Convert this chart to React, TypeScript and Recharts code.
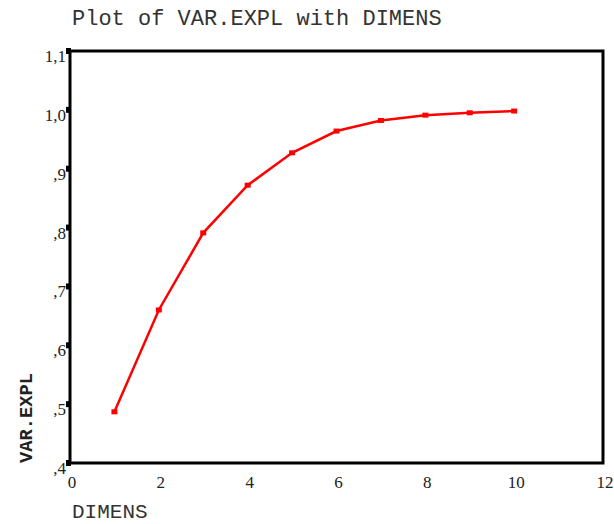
import { LineChart, Line, XAxis, YAxis, ReferenceArea } from 'recharts';

const dimens = [1, 2, 3, 4, 5, 6, 7, 8, 9, 10];
const varExpl = [0.487, 0.66, 0.791, 0.872, 0.927, 0.964, 0.982, 0.991, 0.995, 0.998];
const xTicks = [0, 2, 4, 6, 8, 10, 12];
const yTicks = [0.4, 0.5, 0.6, 0.7, 0.8, 0.9, 1.0, 1.1];

const data = dimens.map((d, i) => ({ dimens: d, value: varExpl[i] }));

const serif = '"Liberation Serif", "Times New Roman", serif';
const mono = '"Liberation Mono", "Courier New", monospace';

// SPSS style: comma decimal, no leading zero
const fmtY = (v: number) => v.toFixed(1).replace('.', ',').replace(/^0/, '');

function YTick({ x, y, payload }: any) {
  return (
    <g>
      <rect x={x - 4} y={y - 3} width={5} height={6} fill="#000" />
      <text x={x - 4} y={y + 11} textAnchor="end" fontFamily={serif} fontSize={17} fill="#222">
        {fmtY(payload.value)}
      </text>
    </g>
  );
}

function XTick({ x, y, payload }: any) {
  return (
    <text x={x + 2} y={y + 25} textAnchor="middle" fontFamily={serif} fontSize={17} fill="#222">
      {payload.value}
    </text>
  );
}

function SquareDot({ cx, cy }: any) {
  return <rect x={cx - 3} y={cy - 2.5} width={6} height={5} fill="#ff0000" />;
}

export default function App() {
  return (
    <div style={{ position: 'absolute', left: 0, top: 0, width: 614, height: 524, background: '#fff' }}>
      <LineChart width={614} height={524} data={data} margin={{ top: 51, right: 11, left: 0, bottom: 0 }}>
        <XAxis
          dataKey="dimens"
          type="number"
          domain={[0, 12]}
          ticks={xTicks}
          height={61}
          axisLine={false}
          tickLine={false}
          tickSize={0}
          tickMargin={0}
          tick={<XTick />}
        />
        <YAxis
          type="number"
          domain={[0.4, 1.1]}
          ticks={yTicks}
          width={70}
          axisLine={false}
          tickLine={false}
          tickSize={0}
          tickMargin={0}
          tick={<YTick />}
        />
        <ReferenceArea x1={0} x2={12} y1={0.4} y2={1.1} fill="none" stroke="#000" strokeWidth={3} />
        <Line
          type="linear"
          dataKey="value"
          stroke="#ff0000"
          strokeWidth={2.5}
          dot={<SquareDot />}
          activeDot={false}
          isAnimationActive={false}
        />
      </LineChart>
      <svg width={614} height={524} style={{ position: 'absolute', left: 0, top: 0, pointerEvents: 'none' }}>
        <text x={72} y={25} fontFamily={mono} fontSize={22} fill="#333">
          Plot of VAR.EXPL with DIMENS
        </text>
        <text x={72} y={518} fontFamily={mono} fontSize={21} fill="#333">
          DIMENS
        </text>
        <text
          x={32}
          y={463}
          transform="rotate(-90 32 463)"
          fontFamily={mono}
          fontSize={18.75}
          fontWeight="bold"
          fill="#222"
        >
          VAR.EXPL
        </text>
      </svg>
    </div>
  );
}
